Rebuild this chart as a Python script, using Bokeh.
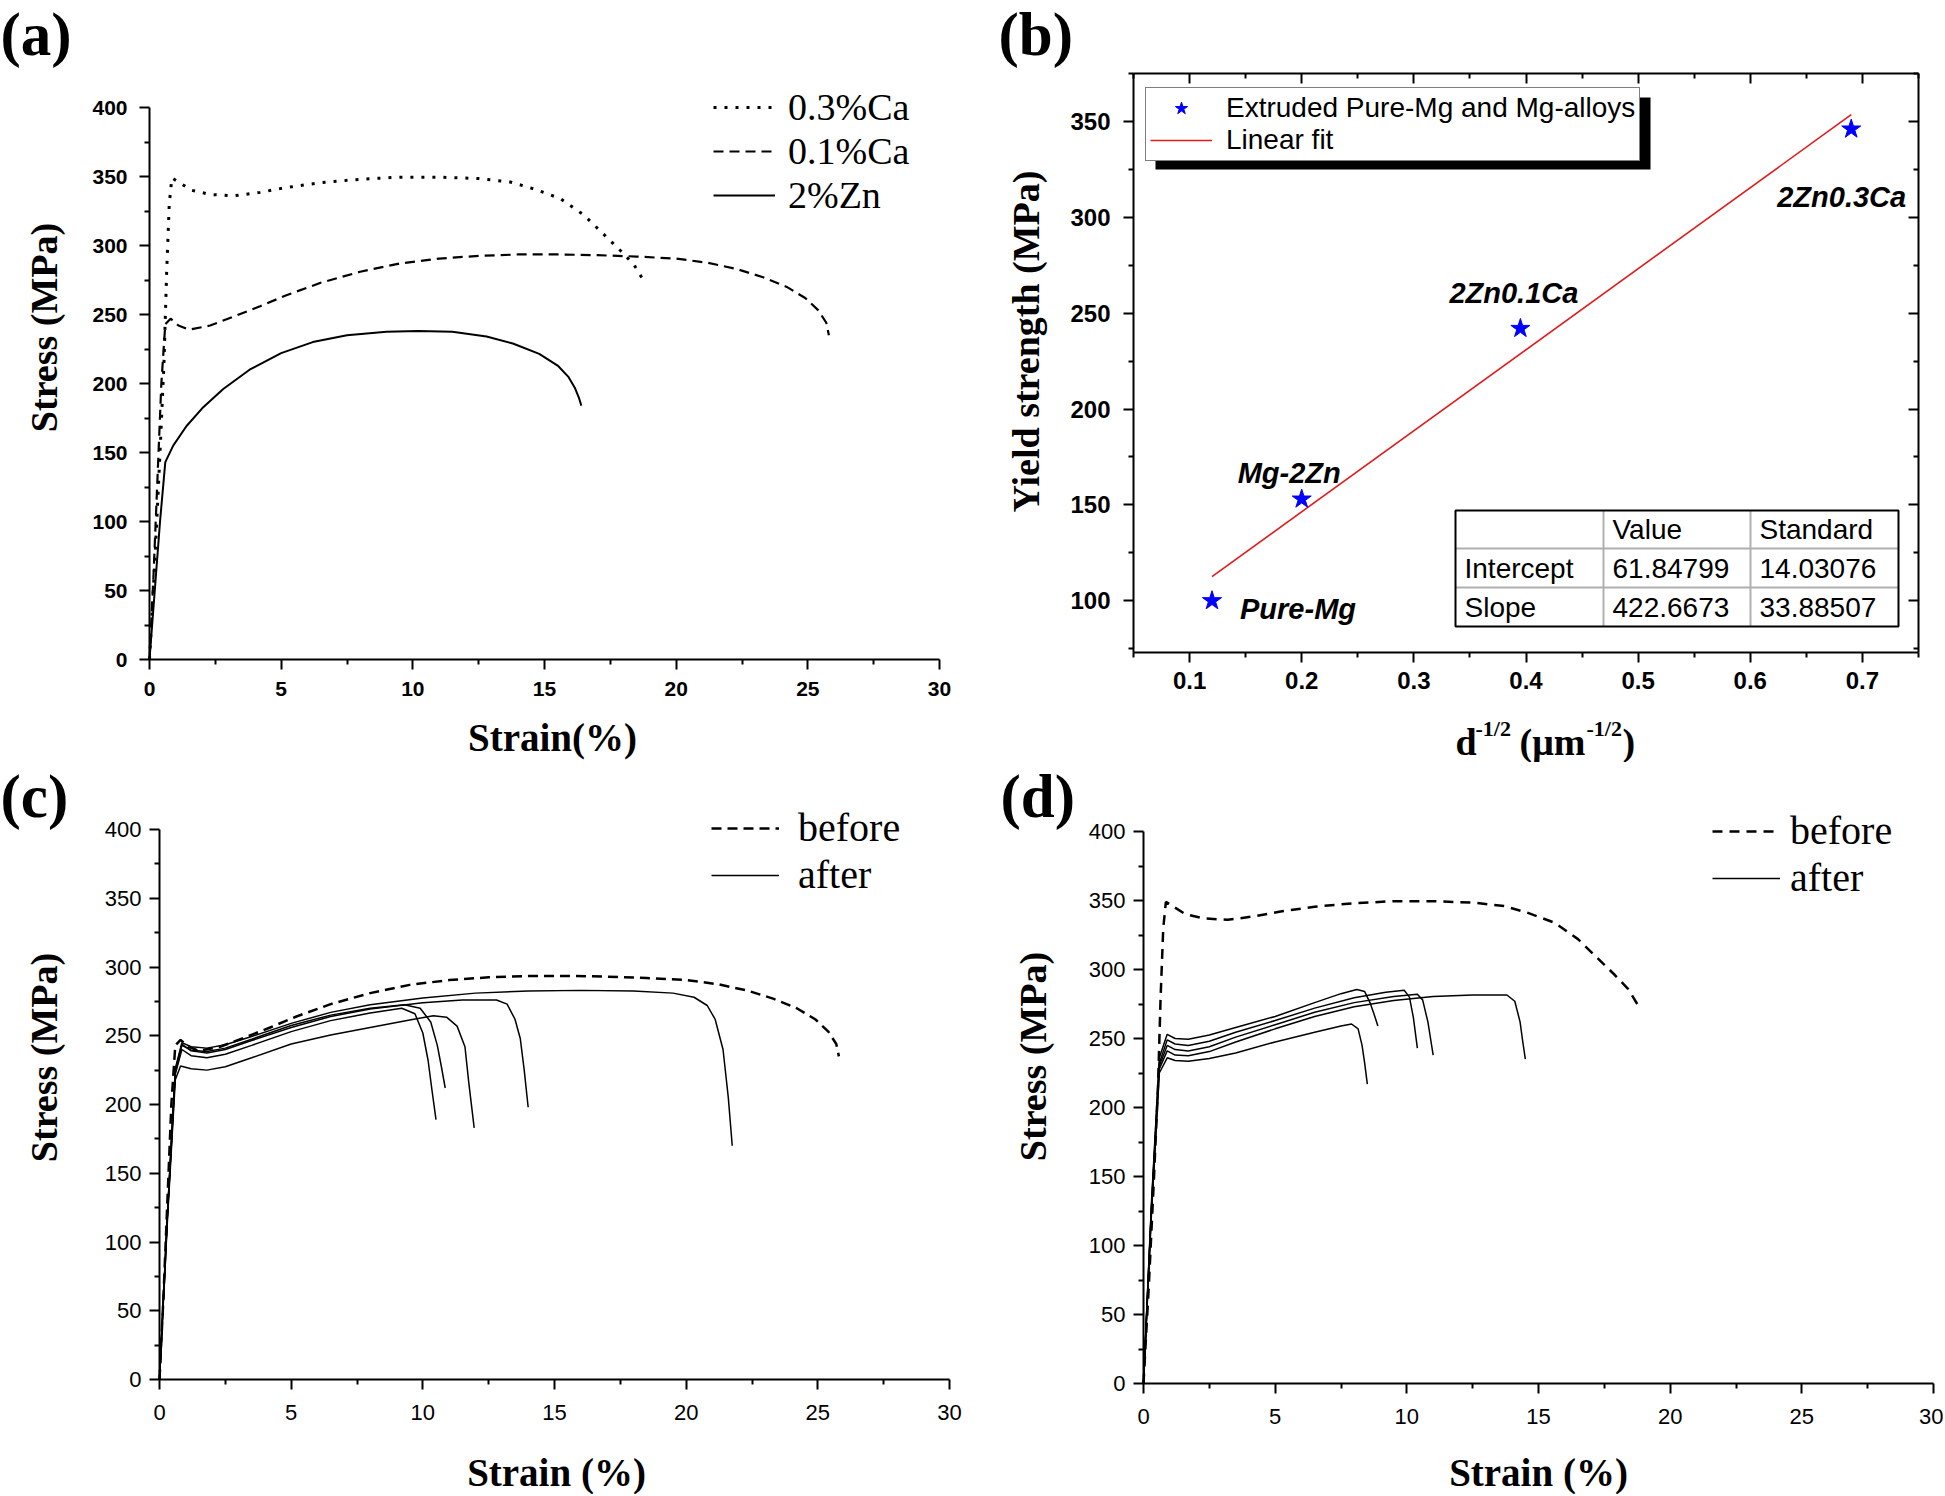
import math
from bokeh.plotting import figure
from bokeh.models import (Range1d, FixedTicker, Legend, LegendItem, Label,
                          ColumnDataSource, LinearAxis)
from bokeh.layouts import column, row
from bokeh.embed import file_html
from bokeh.resources import INLINE
from bokeh.core.properties import value

# ---------------- data ----------------
stress_ticks = [0, 50, 100, 150, 200, 250, 300, 350, 400]
stress_minor = [25, 75, 125, 175, 225, 275, 325, 375]
strain_ticks = [0, 5, 10, 15, 20, 25, 30]
strain_minor = [2.5, 7.5, 12.5, 17.5, 22.5, 27.5]

# (a) tensile curves
ca03_strain = [0, 0.2, 0.4, 0.55, 0.65, 0.75, 0.85, 1.1, 1.6, 2.3, 3.2, 4.2, 5.2, 6.5,
               8.0, 9.5, 11.0, 12.5, 13.7, 14.6, 15.6, 16.5, 17.2, 17.9, 18.4, 18.75]
ca03_stress = [0, 70, 150, 215, 280, 330, 349, 346, 340, 337, 336, 338.5, 342, 345.5,
               348, 349.5, 349.5, 348.5, 346, 341, 334, 322, 309, 296, 286, 275]
ca01_strain = [0, 0.15, 0.3, 0.45, 0.6, 0.8, 1.1, 1.5, 2.3, 3.2, 4.2, 5.2, 6.5, 8.0, 9.5,
               11.0, 12.5, 14.0, 15.5, 17.0, 18.5, 20.0, 21.2, 22.3, 23.3, 24.2, 24.9,
               25.4, 25.7, 25.8]
ca01_stress = [0, 60, 130, 200, 243, 247, 242, 239, 242, 248.5, 256, 264, 273, 281, 287,
               290.5, 292.5, 293.5, 293.5, 293, 292, 290.5, 287.5, 283, 277, 270, 262,
               253, 244, 235]
zn2_strain = [0, 0.2, 0.4, 0.6, 0.9, 1.4, 2.0, 2.8, 3.8, 5.0, 6.2, 7.5, 9.0, 10.2, 11.5,
              12.8, 13.8, 14.8, 15.5, 15.9, 16.15, 16.3, 16.4]
zn2_stress = [0, 50, 100, 143, 155, 169, 182, 196, 210, 222, 230, 235, 237.5, 238, 237.5,
              234, 229, 221.5, 213, 205, 197, 190, 184]

# (b) yield strength vs d^-1/2
b_x = [0.12, 0.2, 0.395, 0.69]
b_y = [100, 153, 242, 346]
b_names = ["Pure-Mg", "Mg-2Zn", "2Zn0.1Ca", "2Zn0.3Ca"]
fit_x = [0.12, 0.69]
fit_y = [112.6, 353.5]
b_xticks = [0.1, 0.2, 0.3, 0.4, 0.5, 0.6, 0.7]
b_xminor = [0.05, 0.15, 0.25, 0.35, 0.45, 0.55, 0.65, 0.75]
b_yticks = [100, 150, 200, 250, 300, 350]
b_yminor = [75, 125, 175, 225, 275, 325, 375]
table_header = ["", "Value", "Standard"]
table_rows = [["Intercept", "61.84799", "14.03076"],
              ["Slope", "422.6673", "33.88507"]]

# (c) before (=0.1%Ca) and after curves
c_before_strain = ca01_strain
c_before_stress = ca01_stress
c_after = [
    ([0, 0.3, 0.6, 0.85, 1.2, 1.8, 2.5, 3.5, 5.0, 6.5, 8.0, 10.0, 12.0, 14.0, 16.0, 18.0,
      19.5, 20.3, 20.8, 21.1, 21.4, 21.6, 21.75],
     [0, 120, 226, 245, 242, 241, 243.5, 249.5, 259, 267, 272.5, 277.5, 281, 282.5, 283,
      282.5, 281, 278, 272, 262, 240, 205, 170]),
    ([0, 0.3, 0.6, 0.85, 1.2, 1.8, 2.5, 3.5, 5.0, 6.5, 8.0, 10.0, 11.5, 12.8, 13.2, 13.5,
      13.7, 13.85, 14.0],
     [0, 120, 225, 244, 239, 237.5, 240, 246.5, 256, 264, 269.5, 274, 276, 276, 273, 262,
      248, 225, 198]),
    ([0, 0.3, 0.6, 0.8, 1.2, 1.8, 2.5, 3.5, 5.0, 6.5, 8.0, 9.5, 10.4, 10.9, 11.3, 11.6,
      11.75, 11.95],
     [0, 115, 218, 228, 226, 225, 227.5, 234, 244, 250.5, 256, 261.5, 264.5, 263.5, 257,
      242, 215, 183]),
    ([0, 0.3, 0.6, 0.85, 1.2, 1.8, 2.5, 3.5, 5.0, 6.5, 8.0, 9.2, 9.7, 10.0, 10.2, 10.35,
      10.5],
     [0, 118, 222, 240, 235.5, 234, 236.5, 243, 253, 261, 266.5, 270, 266, 252, 232, 210,
      189]),
    ([0, 0.3, 0.6, 0.85, 1.2, 1.8, 2.5, 3.5, 5.0, 6.5, 8.0, 9.3, 9.9, 10.3, 10.55, 10.7,
      10.85],
     [0, 119, 224, 243, 239.5, 238.5, 241, 247.5, 257.5, 265, 270, 272.5, 270, 260, 243,
      228, 212]),
]

# (d) before (=0.3%Ca) and after curves
d_before_strain = ca03_strain
d_before_stress = ca03_stress
d_after = [
    ([0, 0.3, 0.6, 0.9, 1.2, 1.7, 2.5, 3.5, 5.0, 6.5, 7.5, 8.1, 8.4, 8.6, 8.75, 8.9],
     [0, 130, 236, 253, 250, 249.5, 252.5, 258, 266, 276, 282.5, 285.5, 284, 276, 268, 259]),
    ([0, 0.3, 0.6, 0.9, 1.2, 1.7, 2.5, 3.5, 5.0, 6.5, 8.0, 9.2, 9.9, 10.1, 10.25, 10.4],
     [0, 128, 232, 249, 246, 245, 248, 254.5, 263, 272, 279.5, 283.5, 285, 280, 265, 243]),
    ([0, 0.3, 0.6, 0.9, 1.2, 1.7, 2.5, 3.5, 5.0, 6.5, 8.0, 9.5, 10.4, 10.6, 10.8, 10.9, 11.0],
     [0, 126, 230, 245, 242, 241, 244, 251, 260, 269, 276, 280.5, 282, 278, 262, 250, 238]),
    ([0, 0.3, 0.6, 0.9, 1.2, 1.7, 2.5, 3.5, 5.0, 6.5, 8.0, 9.5, 11.0, 12.5, 13.8, 14.1,
      14.3, 14.4, 14.5],
     [0, 125, 228, 241, 238, 237.5, 240.5, 247.5, 257, 266, 273, 277.5, 280.5, 281.5, 281.5,
      277, 262, 248, 235]),
    ([0, 0.3, 0.6, 0.9, 1.2, 1.7, 2.5, 3.5, 5.0, 6.5, 7.5, 7.9, 8.15, 8.3, 8.4, 8.5],
     [0, 122, 225, 236, 234, 233.5, 235.5, 239.5, 247.5, 254.5, 259, 260.5, 257, 245, 232, 217]),
]

# ---------------- styling / layout helpers ----------------
SANS = "Liberation Sans"
SERIF = "Liberation Serif"


class Panel:
    """A figure whose frame fills the whole canvas; the axes sit at fixed data locations."""

    def __init__(self, fig_box, ax_box, dbox):
        self.FX, self.FT, self.W, self.H = fig_box
        x0p, x1p, y0p, y1p = ax_box          # page pixels of the data box edges
        d0, d1, e0, e1 = dbox                # data values at those edges
        self.sx = (x1p - x0p) / (d1 - d0)
        self.sy = (y0p - y1p) / (e1 - e0)
        self.xr = (d0 - (x0p - self.FX) / self.sx, d1 + (self.FX + self.W - x1p) / self.sx)
        self.yr = (e0 - (self.FT + self.H - y0p) / self.sy, e1 + (y1p - self.FT) / self.sy)
        p = figure(width=self.W, height=self.H, x_range=Range1d(*self.xr),
                   y_range=Range1d(*self.yr), min_border=0, output_backend="svg",
                   toolbar_location=None)
        p.grid.visible = False
        p.outline_line_color = None
        p.background_fill_color = "white"
        p.border_fill_color = "white"
        p.xaxis[0].fixed_location = e0
        p.yaxis[0].fixed_location = d0
        p.xaxis[0].bounds = (d0, d1)
        p.yaxis[0].bounds = (e0, e1)
        self.p = p

    # page pixel -> frame-relative screen coordinate (origin bottom-left)
    def fx(self, px):
        return px - self.FX

    def fy(self, py):
        return self.FT + self.H - py

    # page pixel -> data coordinate
    def dx(self, px):
        return self.xr[0] + (px - self.FX) / self.sx

    def dy(self, py):
        return self.yr[0] + (self.FT + self.H - py) / self.sy

    def label(self, text, px, py, size, bold=True, angle=0.0, align="center",
              baseline="middle", font=SERIF, style=None):
        self.p.add_layout(Label(x=self.fx(px), y=self.fy(py), x_units="screen",
                                y_units="screen", text=text, text_font=font,
                                text_font_size=size,
                                text_font_style=style if style else ("bold" if bold else "normal"),
                                text_color="black", angle=angle, text_align=align,
                                text_baseline=baseline))


def style_axis(ax, ticks, minor, size, bold, inward=False, labels=True, standoff=8):
    ax.ticker = FixedTicker(ticks=ticks, minor_ticks=minor)
    ax.axis_line_width = 2
    ax.axis_line_color = "black"
    ax.major_tick_line_width = 2
    ax.minor_tick_line_width = 2
    ax.major_tick_line_color = "black"
    ax.minor_tick_line_color = "black"
    if inward:
        ax.major_tick_in, ax.major_tick_out = 10, 0
        ax.minor_tick_in, ax.minor_tick_out = 5, 0
    else:
        ax.major_tick_in, ax.major_tick_out = 0, 10
        ax.minor_tick_in, ax.minor_tick_out = 0, 5
    ax.major_label_text_font = SANS
    ax.major_label_text_font_size = size
    ax.major_label_text_font_style = "bold" if bold else "normal"
    ax.major_label_text_color = "black" if labels else None
    ax.major_label_standoff = standoff
    ax.axis_label = None


def line_legend(panel, items, left_px, top_px, gw, gh, standoff, size):
    n = len(items)
    return Legend(items=items,
                  location=(panel.fx(left_px), panel.fy(top_px + n * gh)),
                  orientation="vertical", background_fill_alpha=0,
                  border_line_color=None, padding=0, spacing=0, margin=0,
                  glyph_width=gw, glyph_height=gh, label_height=gh,
                  label_standoff=standoff, label_text_font=SERIF,
                  label_text_font_size=size, label_text_color="black")


# ---------------- panel (a) ----------------
A = Panel((0, 0, 980, 762), (149, 939, 659, 107), (0, 30, 0, 400))
pa = A.p
style_axis(pa.xaxis[0], strain_ticks, strain_minor, "21px", True, standoff=12)
style_axis(pa.yaxis[0], stress_ticks, stress_minor, "21px", True, standoff=12)
r_a1 = pa.line(ca03_strain, ca03_stress, line_color="black", line_width=3, line_dash="3 8")
r_a2 = pa.line(ca01_strain, ca01_stress, line_color="black", line_width=2.2, line_dash="10 6")
r_a3 = pa.line(zn2_strain, zn2_stress, line_color="black", line_width=2)
pa.add_layout(line_legend(A, [LegendItem(label="0.3%Ca", renderers=[r_a1]),
                              LegendItem(label="0.1%Ca", renderers=[r_a2]),
                              LegendItem(label="2%Zn", renderers=[r_a3])],
                          713, 85, 62, 44, 13, "38px"))
A.label("(a)", 0, 0, "61px", baseline="top", align="left")
A.label("Stress (MPa)", 43, 327, "38px", angle=math.pi / 2)
A.label("Strain(%)", 552, 737, "39px")

# ---------------- panel (b) ----------------
B = Panel((980, 0, 963, 762), (1133, 1918, 652, 73), (0.05, 0.75, 73, 375))
pb = B.p
style_axis(pb.xaxis[0], b_xticks, b_xminor, "24px", True, standoff=9)
style_axis(pb.yaxis[0], b_yticks, b_yminor, "24px", True, standoff=13)
ax_top = LinearAxis(fixed_location=375, bounds=(0.05, 0.75))
pb.add_layout(ax_top, "above")
style_axis(ax_top, b_xticks, b_xminor, "24px", True, inward=True, labels=False)
ax_right = LinearAxis(fixed_location=0.75, bounds=(73, 375))
pb.add_layout(ax_right, "right")
style_axis(ax_right, b_yticks, b_yminor, "24px", True, inward=True, labels=False)

r_fit = pb.line(fit_x, fit_y, line_color="#e31a1c", line_width=1.6)
r_pts = pb.scatter(b_x, b_y, marker="star", size=20, fill_color="#0000ff",
                   line_color="#0000ff")
lab_dx = [28, -64, -71, -74]
lab_dy = [8, -26, -35, 68]
src_b = ColumnDataSource(dict(x=b_x, y=b_y, name=b_names, dx=lab_dx, dy=lab_dy))
pb.text(x="x", y="y", text="name", x_offset="dx", y_offset="dy", source=src_b,
        text_font=value(SANS), text_font_style="bold italic", text_font_size="29px",
        text_baseline="middle", text_align="left", text_color="black")

# legend box with a drop shadow
pb.quad(left=B.dx(1155), right=B.dx(1650), top=B.dy(97), bottom=B.dy(169),
        fill_color="black", line_color=None)
pb.add_layout(Legend(items=[LegendItem(label="Extruded Pure-Mg and Mg-alloys", renderers=[r_pts]),
                            LegendItem(label="Linear fit", renderers=[r_fit])],
                     location=(B.fx(1145), B.fy(161)), orientation="vertical", padding=4,
                     spacing=0, margin=0, glyph_width=62, glyph_height=32, label_height=32,
                     label_standoff=14, label_text_font=SANS, label_text_font_size="28px",
                     label_text_color="black", background_fill_color="white",
                     background_fill_alpha=1, border_line_color="black",
                     border_line_width=1.5))

# fit-result table
tab_cols = [1455, 1603, 1750, 1898]
tab_rows = [510, 548, 587, 626]
pb.quad(left=B.dx(tab_cols[0]), right=B.dx(tab_cols[-1]), top=B.dy(tab_rows[0]),
        bottom=B.dy(tab_rows[-1]), fill_color="white", line_color=None)
seg_x0 = [B.dx(tab_cols[0])] * 2 + [B.dx(c) for c in tab_cols[1:3]]
seg_x1 = [B.dx(tab_cols[-1])] * 2 + [B.dx(c) for c in tab_cols[1:3]]
seg_y0 = [B.dy(r) for r in tab_rows[1:3]] + [B.dy(tab_rows[0])] * 2
seg_y1 = [B.dy(r) for r in tab_rows[1:3]] + [B.dy(tab_rows[-1])] * 2
pb.segment(seg_x0, seg_y0, seg_x1, seg_y1, line_color="#b0b0b0", line_width=2)
pb.quad(left=B.dx(tab_cols[0]), right=B.dx(tab_cols[-1]), top=B.dy(tab_rows[0]),
        bottom=B.dy(tab_rows[-1]), fill_color=None, line_color="black", line_width=2)
for ri, rvals in enumerate([table_header] + table_rows):
    yc = (tab_rows[ri] + tab_rows[ri + 1]) / 2
    for ci, txt in enumerate(rvals):
        if txt:
            B.label(txt, tab_cols[ci] + 9, yc, "28px", bold=False, align="left", font=SANS)

B.label("(b)", 998, 0, "61px", baseline="top", align="left")
B.label("Yield strength (MPa)", 1025, 341, "38px", angle=math.pi / 2)
B.label("d", 1455, 741, "38px", align="left")
B.label("-1/2", 1475, 728, "22px", align="left")
B.label("(\u03bcm", 1519, 741, "38px", align="left")
B.label("-1/2", 1586, 728, "22px", align="left")
B.label(")", 1622, 741, "38px", align="left")

# ---------------- panel (c) ----------------
C = Panel((0, 762, 980, 732), (159, 949, 1379, 829), (0, 30, 0, 400))
pc = C.p
style_axis(pc.xaxis[0], strain_ticks, strain_minor, "22px", False, standoff=15)
style_axis(pc.yaxis[0], stress_ticks, stress_minor, "22px", False, standoff=8)
r_c_after = [pc.line(sx, sy, line_color="black", line_width=1.5) for sx, sy in c_after]
r_c_before = pc.line(c_before_strain, c_before_stress, line_color="black", line_width=2.5,
                     line_dash="10 6")
pc.add_layout(line_legend(C, [LegendItem(label="before", renderers=[r_c_before]),
                              LegendItem(label="after", renderers=[r_c_after[0]])],
                          711, 806, 68, 46, 19, "40px"))
C.label("(c)", 0, 762, "61px", baseline="top", align="left")
C.label("Stress (MPa)", 43, 1057, "38px", angle=math.pi / 2)
C.label("Strain (%)", 556, 1472, "39px")

# ---------------- panel (d) ----------------
D = Panel((980, 762, 963, 732), (1143, 1933, 1383, 831), (0, 30, 0, 400))
pd = D.p
style_axis(pd.xaxis[0], strain_ticks, strain_minor, "22px", False, standoff=15)
style_axis(pd.yaxis[0], stress_ticks, stress_minor, "22px", False, standoff=8)
r_d_after = [pd.line(sx, sy, line_color="black", line_width=1.5) for sx, sy in d_after]
r_d_before = pd.line(d_before_strain, d_before_stress, line_color="black", line_width=2.5,
                     line_dash="10 7")
pd.add_layout(line_legend(D, [LegendItem(label="before", renderers=[r_d_before]),
                              LegendItem(label="after", renderers=[r_d_after[0]])],
                          1712, 809, 68, 46, 10, "40px"))
D.label("(d)", 1000, 762, "61px", baseline="top", align="left")
D.label("Stress (MPa)", 1032, 1056, "38px", angle=math.pi / 2)
D.label("Strain (%)", 1538, 1472, "39px")

layout = column(row(pa, pb), row(pc, pd))
open("out.html", "w").write(file_html(layout, INLINE))
